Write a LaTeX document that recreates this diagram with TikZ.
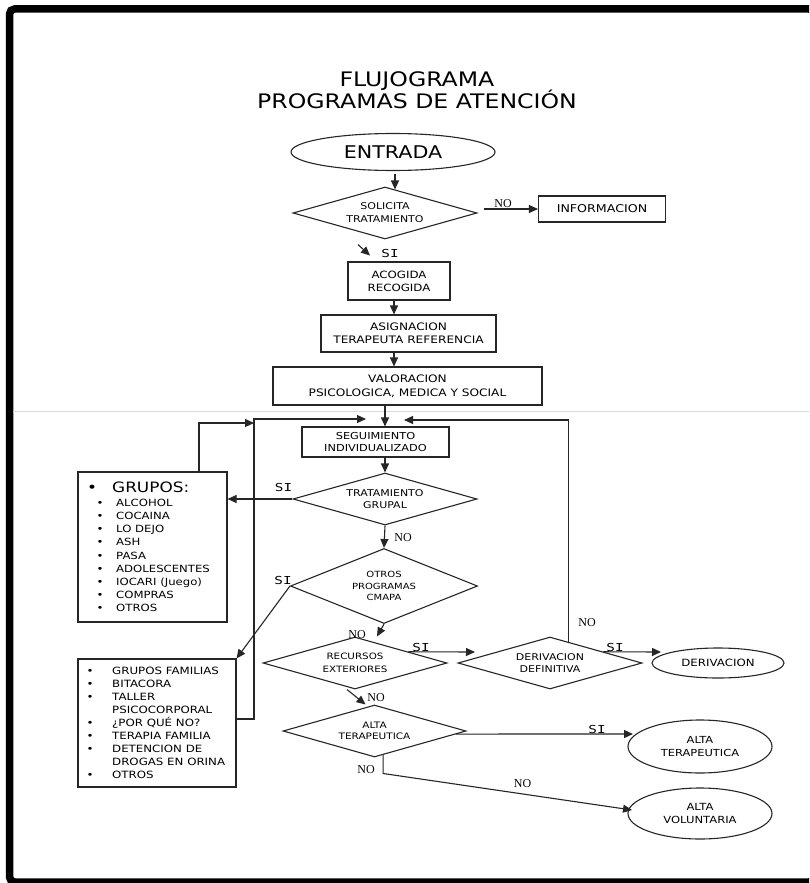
\documentclass[tikz,border=0pt]{standalone}
\usepackage{fontspec}
\setmainfont{DejaVu Sans}[FakeStretch=1.18]
\newfontfamily\serifNO{Liberation Serif}
\newfontfamily\monoSI{DejaVu Sans Mono}[FakeStretch=1.3]
\usetikzlibrary{shapes.geometric,arrows.meta,calc}
\newcommand\fsz[2]{\fontsize{#1}{#2}\selectfont}
\newcommand\gbul{\makebox[19.5pt][l]{\textbullet}}
\newcommand\fbul{\makebox[25.5pt][l]{\textbullet}}
\newcommand\fnob{\hspace*{25.5pt}}
\begin{document}
\begin{tikzpicture}[x=1pt,y=-1pt,
  box/.style={draw=black!85, line width=1.1pt, rectangle, inner sep=0pt, align=center},
  dia/.style={draw=black!85, line width=1.1pt, diamond, inner sep=0pt, align=center},
  ell/.style={draw=black!85, line width=1.1pt, ellipse, inner sep=0pt, align=center},
  arr/.style={draw=black!85, line width=1.1pt, -{Triangle[length=9pt,width=8pt]}},
  conn/.style={draw=black!85, line width=1.1pt},
  nolab/.style={font=\serifNO\fsz{12}{14}, inner sep=0pt, anchor=base},
  silab/.style={font=\monoSI\fsz{11}{13}, inner sep=0pt, anchor=base},
]
\useasboundingbox (0,0) rectangle (809,883);
\clip (0,0) rectangle (809,883);
\fill[white] (0,0) rectangle (809,883);
\draw[line width=7.5pt, rounded corners=5pt] (9.5,9) rectangle (814,882);
\draw[black!15, line width=0.8pt] (13,411) -- (809,411);

% title
\node[font=\fsz{20}{22}, anchor=base, inner sep=0pt] (t1) at (417,86) {FLUJOGRAMA};
\node[font=\fsz{20}{22}, anchor=base, inner sep=0pt] (t2) at (417,108) {PROGRAMAS DE ATENCIÓN};

% main nodes
\node[ell, minimum width=204pt, minimum height=37pt, font=\fsz{17.5}{20}] (entrada) at (393,152) {ENTRADA};
\node[dia, minimum width=184pt, minimum height=52pt, aspect=3.5, font=\fsz{9.3}{13}] (solicita) at (385,213) {SOLICITA\\TRATAMIENTO};
\node[box, minimum width=127pt, minimum height=26pt, font=\fsz{10.7}{13}] (info) at (602,209) {INFORMACION};
\node[box, minimum width=102pt, minimum height=38pt, font=\fsz{10}{13}] (acogida) at (399,281) {ACOGIDA\\RECOGIDA};
\node[box, minimum width=175pt, minimum height=37pt, font=\fsz{10.3}{13}] (asign) at (408.5,333.5) {ASIGNACION\\TERAPEUTA REFERENCIA};
\node[box, minimum width=269pt, minimum height=38pt, font=\fsz{10.3}{14}] (valor) at (407.5,386) {VALORACION\\PSICOLOGICA, MEDICA Y SOCIAL};
\node[box, minimum width=147pt, minimum height=30pt, font=\fsz{9.6}{11.5}] (seg) at (375.5,442) {SEGUIMIENTO\\INDIVIDUALIZADO};
\node[dia, minimum width=184pt, minimum height=52pt, aspect=3.5, font=\fsz{9.3}{12}] (trat) at (385,499) {TRATAMIENTO\\GRUPAL};
\node[dia, minimum width=187pt, minimum height=75pt, aspect=2.5, font=\fsz{8.5}{11.5}] (otros) at (384,586) {OTROS\\PROGRAMAS\\CMAPA};
\node[dia, minimum width=184pt, minimum height=52pt, aspect=3.5, font=\fsz{8.75}{12.5}] (recur) at (355,663) {RECURSOS\\EXTERIORES};
\node[dia, minimum width=184pt, minimum height=52pt, aspect=3.5, font=\fsz{9.3}{12}] (deriv) at (550,663) {DERIVACION\\DEFINITIVA};
\node[ell, minimum width=132pt, minimum height=30pt, font=\fsz{10}{12}] (derivacion) at (718,663) {DERIVACION};
\node[dia, minimum width=183pt, minimum height=52pt, aspect=3.5, font=\fsz{8.9}{11}] (alta) at (374.5,731) {ALTA\\TERAPEUTICA};
\node[ell, minimum width=144pt, minimum height=53pt, font=\fsz{9.7}{13.5}] (altater) at (700,746.5) {ALTA\\TERAPEUTICA};
\node[ell, minimum width=144pt, minimum height=51pt, font=\fsz{9.8}{12.5}] (altavol) at (700,813.5) {ALTA\\VOLUNTARIA};

% list boxes
\node[box, minimum width=149pt, minimum height=150pt] (grupos) at (152.5,547) {};
\node[box, minimum width=158pt, minimum height=128pt] (fam) at (157,723) {};
\node[anchor=base west, inner sep=0pt, font=\fsz{14.3}{16}] (ghead) at (87,492) {\makebox[25pt][l]{\textbullet}GRUPOS:};
\node[anchor=base west, inner sep=0pt, font=\fsz{9.9}{13.1}] (glist) at (96.5,506.6) {\begin{tabular}[t]{@{}l@{}}
\gbul ALCOHOL\\ \gbul COCAINA\\ \gbul LO DEJO\\ \gbul ASH\\ \gbul PASA\\ \gbul ADOLESCENTES\\ \gbul IOCARI (Juego)\\ \gbul COMPRAS\\ \gbul OTROS
\end{tabular}};
\node[anchor=base west, inner sep=0pt, font=\fsz{10}{13}] (flist) at (86.5,674.6) {\begin{tabular}[t]{@{}l@{}}
\fbul GRUPOS FAMILIAS\\ \fbul BITACORA\\ \fbul TALLER\\ \fnob PSICOCORPORAL\\ \fbul ¿POR QUÉ NO?\\ \fbul TERAPIA FAMILIA\\ \fbul DETENCION DE\\ \fnob DROGAS EN ORINA\\ \fbul OTROS
\end{tabular}};

% free-end coordinates
\coordinate (loopTop) at (254,419);
\coordinate (inL) at (366,419);
\coordinate (inR) at (404,420);
\coordinate (dTip) at (475,652);
\coordinate (eTip) at (661,652);
\coordinate (aTip) at (633,734);
\coordinate (vTip) at (632,810);

% connectors
\draw[arr] ([xshift=2pt,yshift=-3pt]entrada.south) -- ([xshift=2pt,yshift=-3pt]entrada.south |- solicita.north);
\draw[arr] (solicita.east) ++(6,-4) -- (info.west);
\node[nolab] (noInfo) at (503,207.5) {NO};
\draw[arr] (solicita.south) ++(-27,5) -- ++(12,11);
\node[silab] (siSol) at (390,257) {SI};
\draw[arr] ([xshift=-5pt]acogida.south) -- ([xshift=-5pt]acogida.south |- asign.north);
\draw[arr] ([xshift=-14.5pt]asign.south) -- ([xshift=-14.5pt]asign.south |- valor.north);
\draw[arr] ([xshift=-22.5pt]valor.south) -- ([xshift=-22.5pt]valor.south |- seg.north);
\draw[arr] (seg.south -| trat.north) -- (trat.north);
\draw[arr] (trat.west) -- (trat.west -| grupos.east);
\node[silab] (siTrat) at (283.5,491) {SI};
\draw[arr] (trat.south) -- (otros.north);
\node[nolab] (noTrat) at (403,541.5) {NO};
\draw[arr] (otros.west) -- (fam.north east);
\node[silab] (siOtros) at (283,584) {SI};
\draw[arr] ([yshift=4pt]fam.east) -| (loopTop) -- (inL);
\draw[arr] ([xshift=46.5pt]grupos.north) |- ([yshift=-4pt]loopTop);
\draw[arr] ($(deriv.north)!0.2!(deriv.east)$) |- (inR);
\node[nolab] (noDeriv) at (587,626) {NO};
\draw[arr] (otros.south) -- ([xshift=22pt]recur.north);
\node[nolab] (noOtros) at (357,638) {NO};
\draw[arr] ($(recur.north)!0.577!(recur.east)$) -- (dTip);
\node[silab] (siRecur) at (421,651) {SI};
\draw[arr] ($(deriv.north)!0.577!(deriv.east)$) -- (eTip);
\node[silab] (siDeriv) at (615,651) {SI};
\draw[arr] ([xshift=-8pt]recur.south) -- ([xshift=-9pt]alta.north);
\node[nolab] (noRecur) at (376,701) {NO};
\draw[arr] ($(alta.east)!0.115!(alta.south)$) -- (aTip);
\node[silab] (siAlta) at (597,733) {SI};
\draw[arr] ($(alta.south)!0.093!(alta.east)$) -- ++(0,18.4) -- (vTip);
\node[nolab] (noAlta1) at (366,773) {NO};
\node[nolab] (noAlta2) at (522.5,787) {NO};
\end{tikzpicture}
\end{document}
